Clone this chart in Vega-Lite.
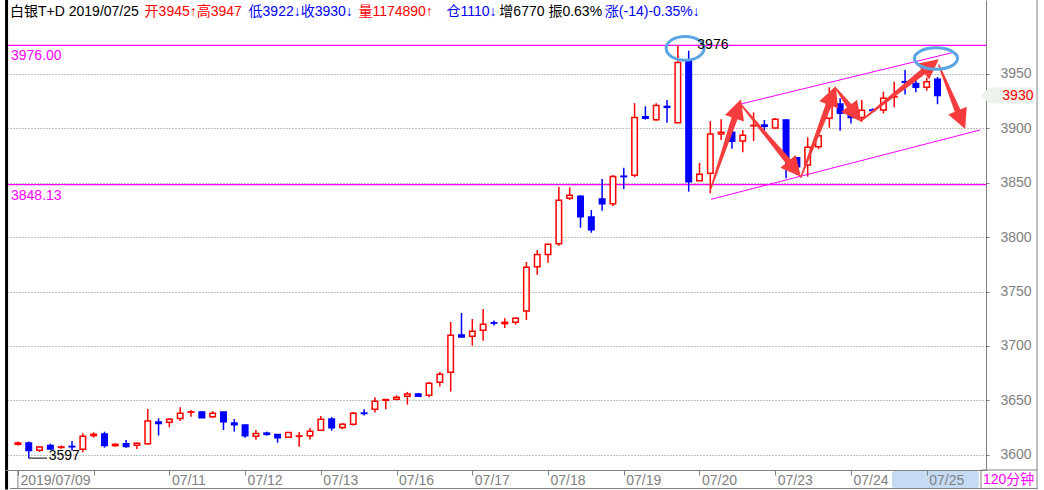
{
  "$schema": "https://vega.github.io/schema/vega-lite/v6.json",
  "width": 981,
  "height": 470,
  "autosize": {"type": "none"},
  "padding": {"left": 5, "top": 0, "right": 58, "bottom": 20},
  "background": "white",
  "config": {"view": {"stroke": null}, "font": "Liberation Sans"},
  "data": {"values": [{}]},
  "datasets": {
    "candles": [
      {"i": 0, "o": 3609.7, "h": 3612.2, "l": 3608.5, "c": 3610.9},
      {"i": 1, "o": 3610.9, "h": 3612.2, "l": 3597.0, "c": 3603.9},
      {"i": 2, "o": 3604.2, "h": 3608.2, "l": 3602.7, "c": 3607.3},
      {"i": 3, "o": 3608.5, "h": 3610.3, "l": 3604.5, "c": 3605.4},
      {"i": 4, "o": 3606.8, "h": 3608.5, "l": 3605.5, "c": 3607.3},
      {"i": 5, "o": 3607.8, "h": 3612.8, "l": 3604.0, "c": 3607.4},
      {"i": 6, "o": 3605.1, "h": 3619.8, "l": 3602.4, "c": 3617.0},
      {"i": 7, "o": 3617.7, "h": 3620.7, "l": 3615.8, "c": 3618.9},
      {"i": 8, "o": 3619.2, "h": 3621.3, "l": 3606.6, "c": 3608.5},
      {"i": 9, "o": 3608.5, "h": 3610.3, "l": 3607.6, "c": 3609.7},
      {"i": 10, "o": 3610.3, "h": 3613.7, "l": 3606.6, "c": 3607.6},
      {"i": 11, "o": 3608.8, "h": 3611.2, "l": 3605.4, "c": 3610.6},
      {"i": 12, "o": 3610.3, "h": 3642.1, "l": 3609.7, "c": 3631.1},
      {"i": 13, "o": 3630.2, "h": 3633.6, "l": 3617.7, "c": 3628.7},
      {"i": 14, "o": 3629.9, "h": 3633.6, "l": 3625.3, "c": 3632.7},
      {"i": 15, "o": 3633.4, "h": 3643.7, "l": 3631.2, "c": 3638.2},
      {"i": 16, "o": 3639.2, "h": 3641.1, "l": 3635.0, "c": 3639.5},
      {"i": 17, "o": 3639.3, "h": 3640.2, "l": 3634.1, "c": 3634.1},
      {"i": 18, "o": 3635.0, "h": 3640.2, "l": 3633.8, "c": 3638.1},
      {"i": 19, "o": 3639.3, "h": 3639.3, "l": 3622.8, "c": 3630.4},
      {"i": 20, "o": 3629.2, "h": 3632.9, "l": 3621.3, "c": 3627.7},
      {"i": 21, "o": 3627.4, "h": 3627.6, "l": 3615.8, "c": 3617.6},
      {"i": 22, "o": 3617.0, "h": 3622.8, "l": 3613.9, "c": 3619.7},
      {"i": 23, "o": 3620.0, "h": 3621.3, "l": 3617.6, "c": 3618.8},
      {"i": 24, "o": 3618.8, "h": 3618.9, "l": 3611.2, "c": 3615.8},
      {"i": 25, "o": 3616.1, "h": 3620.8, "l": 3615.8, "c": 3620.6},
      {"i": 26, "o": 3617.0, "h": 3620.9, "l": 3607.5, "c": 3617.3},
      {"i": 27, "o": 3617.6, "h": 3624.6, "l": 3614.2, "c": 3621.6},
      {"i": 28, "o": 3622.5, "h": 3635.6, "l": 3622.2, "c": 3632.6},
      {"i": 29, "o": 3632.9, "h": 3634.7, "l": 3622.2, "c": 3624.9},
      {"i": 30, "o": 3625.2, "h": 3629.2, "l": 3623.4, "c": 3628.2},
      {"i": 31, "o": 3628.1, "h": 3639.4, "l": 3626.9, "c": 3638.2},
      {"i": 32, "o": 3638.4, "h": 3641.9, "l": 3636.1, "c": 3638.0},
      {"i": 33, "o": 3641.9, "h": 3652.9, "l": 3638.8, "c": 3649.2},
      {"i": 34, "o": 3650.1, "h": 3651.0, "l": 3641.9, "c": 3650.8},
      {"i": 35, "o": 3651.1, "h": 3654.7, "l": 3650.1, "c": 3652.9},
      {"i": 36, "o": 3653.8, "h": 3657.8, "l": 3646.2, "c": 3655.9},
      {"i": 37, "o": 3655.9, "h": 3656.9, "l": 3653.8, "c": 3653.8},
      {"i": 38, "o": 3654.7, "h": 3666.9, "l": 3652.9, "c": 3665.7},
      {"i": 39, "o": 3666.7, "h": 3676.1, "l": 3662.7, "c": 3674.0},
      {"i": 40, "o": 3675.8, "h": 3722.0, "l": 3658.1, "c": 3709.8},
      {"i": 41, "o": 3710.1, "h": 3730.3, "l": 3708.0, "c": 3708.3},
      {"i": 42, "o": 3708.9, "h": 3724.8, "l": 3700.3, "c": 3713.5},
      {"i": 43, "o": 3714.4, "h": 3734.0, "l": 3704.9, "c": 3719.9},
      {"i": 44, "o": 3721.3, "h": 3723.3, "l": 3718.7, "c": 3721.0},
      {"i": 45, "o": 3720.5, "h": 3725.4, "l": 3716.5, "c": 3721.7},
      {"i": 46, "o": 3721.7, "h": 3726.6, "l": 3719.6, "c": 3725.4},
      {"i": 47, "o": 3732.1, "h": 3777.1, "l": 3723.9, "c": 3772.2},
      {"i": 48, "o": 3772.8, "h": 3788.1, "l": 3765.5, "c": 3784.1},
      {"i": 49, "o": 3784.1, "h": 3793.6, "l": 3776.5, "c": 3793.3},
      {"i": 50, "o": 3793.9, "h": 3846.0, "l": 3792.1, "c": 3833.7},
      {"i": 51, "o": 3835.6, "h": 3845.6, "l": 3834.0, "c": 3838.3},
      {"i": 52, "o": 3837.4, "h": 3838.3, "l": 3808.6, "c": 3818.7},
      {"i": 53, "o": 3818.4, "h": 3824.8, "l": 3804.0, "c": 3806.8},
      {"i": 54, "o": 3834.9, "h": 3853.3, "l": 3824.2, "c": 3830.7},
      {"i": 55, "o": 3830.7, "h": 3857.0, "l": 3828.5, "c": 3855.7},
      {"i": 56, "o": 3855.9, "h": 3863.6, "l": 3844.2, "c": 3855.5},
      {"i": 57, "o": 3856.7, "h": 3923.0, "l": 3855.0, "c": 3909.9},
      {"i": 58, "o": 3910.5, "h": 3920.0, "l": 3907.8, "c": 3909.0},
      {"i": 59, "o": 3907.8, "h": 3922.8, "l": 3906.9, "c": 3920.9},
      {"i": 60, "o": 3920.0, "h": 3925.8, "l": 3905.0, "c": 3919.1},
      {"i": 61, "o": 3905.0, "h": 3976.0, "l": 3905.0, "c": 3960.4},
      {"i": 62, "o": 3961.0, "h": 3971.1, "l": 3841.7, "c": 3850.9},
      {"i": 63, "o": 3851.8, "h": 3868.0, "l": 3851.8, "c": 3857.6},
      {"i": 64, "o": 3858.5, "h": 3906.5, "l": 3840.2, "c": 3894.6},
      {"i": 65, "o": 3894.6, "h": 3908.1, "l": 3889.1, "c": 3896.2},
      {"i": 66, "o": 3896.2, "h": 3898.3, "l": 3881.2, "c": 3887.9},
      {"i": 67, "o": 3888.2, "h": 3898.3, "l": 3877.8, "c": 3893.4},
      {"i": 68, "o": 3902.2, "h": 3914.5, "l": 3888.2, "c": 3902.5},
      {"i": 69, "o": 3902.9, "h": 3907.5, "l": 3898.3, "c": 3901.7},
      {"i": 70, "o": 3900.1, "h": 3909.3, "l": 3899.2, "c": 3908.1},
      {"i": 71, "o": 3907.5, "h": 3908.1, "l": 3853.9, "c": 3872.9},
      {"i": 72, "o": 3872.9, "h": 3873.2, "l": 3857.0, "c": 3864.6},
      {"i": 73, "o": 3866.2, "h": 3891.6, "l": 3855.5, "c": 3882.4},
      {"i": 74, "o": 3883.0, "h": 3893.1, "l": 3880.8, "c": 3893.1},
      {"i": 75, "o": 3909.0, "h": 3937.5, "l": 3900.4, "c": 3927.4},
      {"i": 76, "o": 3922.2, "h": 3927.4, "l": 3897.7, "c": 3913.6},
      {"i": 77, "o": 3913.6, "h": 3916.7, "l": 3904.4, "c": 3909.9},
      {"i": 78, "o": 3909.9, "h": 3925.8, "l": 3905.9, "c": 3916.4},
      {"i": 79, "o": 3916.7, "h": 3918.2, "l": 3915.2, "c": 3916.2},
      {"i": 80, "o": 3916.7, "h": 3933.5, "l": 3913.6, "c": 3927.4},
      {"i": 81, "o": 3928.7, "h": 3942.7, "l": 3919.1, "c": 3929.0},
      {"i": 82, "o": 3942.7, "h": 3953.4, "l": 3931.0, "c": 3942.1},
      {"i": 83, "o": 3941.1, "h": 3944.2, "l": 3932.9, "c": 3937.5},
      {"i": 84, "o": 3937.5, "h": 3946.3, "l": 3934.4, "c": 3942.7},
      {"i": 85, "o": 3945.0, "h": 3947.0, "l": 3922.0, "c": 3930.0}
    ],
    "levels": [
      {"v": 3976, "label": "3976.00"},
      {"v": 3848.13, "label": "3848.13"}
    ],
    "channel": [
      {"i": 66.81, "v": 3922.2, "i2": 86.34, "v2": 3969.3},
      {"i": 64.07, "v": 3834.7, "i2": 88.93, "v2": 3898.3}
    ],
    "arrows": [
      {"id": 1, "k": 0, "i": 64.02, "v": 3843.8},
      {"id": 1, "k": 1, "i": 66.39, "v": 3913.5},
      {"id": 1, "k": 2, "i": 66.83, "v": 3926.5},
      {"id": 2, "k": 0, "i": 66.79, "v": 3922.2},
      {"id": 2, "k": 1, "i": 71.49, "v": 3866.0},
      {"id": 2, "k": 2, "i": 72.37, "v": 3855.4},
      {"id": 3, "k": 0, "i": 72.37, "v": 3855.0},
      {"id": 3, "k": 1, "i": 75.11, "v": 3925.8},
      {"id": 3, "k": 2, "i": 75.6, "v": 3938.7},
      {"id": 4, "k": 0, "i": 75.6, "v": 3936.6},
      {"id": 4, "k": 1, "i": 77.11, "v": 3916.9},
      {"id": 4, "k": 2, "i": 77.95, "v": 3905.9},
      {"id": 5, "k": 0, "i": 78.1, "v": 3908.1},
      {"id": 5, "k": 1, "i": 84.03, "v": 3954.7},
      {"id": 5, "k": 2, "i": 85.12, "v": 3963.2},
      {"id": 6, "k": 0, "i": 85.12, "v": 3958.0},
      {"id": 6, "k": 1, "i": 87.03, "v": 3911.9},
      {"id": 6, "k": 2, "i": 87.56, "v": 3899.2}
    ]
  },
  "layer": [
    {
      "data": {"name": "levels"},
      "mark": {"type": "rule", "color": "#ff00ff", "strokeWidth": 1.2},
      "encoding": {
        "y": {
          "field": "v", "type": "quantitative",
          "scale": {"domain": [3586.1, 4017.7], "nice": false, "zero": false},
          "axis": {
            "orient": "right", "title": null, "format": "d",
            "values": [3600, 3650, 3700, 3750, 3800, 3850, 3900, 3950],
            "grid": true, "gridColor": "#808080", "gridDash": [1, 2], "gridWidth": 1,
            "domainColor": "#808080", "domainWidth": 1,
            "tickColor": "#808080", "tickSize": 3,
            "labelColor": "#808080", "labelFontSize": 14, "labelFont": "Liberation Sans",
            "labelPadding": 11, "labelAlign": "left", "labelBaseline": "middle",
            "labelOverlap": false, "labelBound": false, "labelFlush": false
          }
        }
      }
    },
    {
      "data": {"name": "levels"},
      "mark": {"type": "text", "color": "#ff00ff", "fontSize": 14, "align": "left", "baseline": "top", "dy": 4},
      "encoding": {
        "x": {"datum": -0.64, "type": "quantitative"},
        "y": {"field": "v", "type": "quantitative"},
        "text": {"field": "label"}
      }
    },
    {
      "data": {"name": "candles"},
      "mark": {"type": "rule", "strokeWidth": 1.5},
      "encoding": {
        "x": {
          "field": "i", "type": "quantitative",
          "scale": {"domain": [-0.732, 89.02], "nice": false, "zero": false},
          "axis": {
            "orient": "bottom", "title": null, "zindex": 1,
            "values": [0, 7, 14, 21, 28, 35, 42, 49, 56, 63, 70, 77, 84],
            "labelExpr": "['2019/07/09','','07/11','07/12','07/13','07/16','07/17','07/18','07/19','07/20','07/23','07/24','07/25'][round(datum.value/7)]",
            "grid": false, "domainColor": "#808080", "domainWidth": 1,
            "tickColor": "#808080", "tickSize": 5,
            "labelColor": "#808080", "labelFontSize": 14, "labelFont": "Liberation Sans",
            "labelAlign": "left", "labelBaseline": "top", "labelOffset": 2, "labelPadding": -2,
            "labelOverlap": false, "labelBound": false, "labelFlush": false
          }
        },
        "y": {"field": "l", "type": "quantitative"},
        "y2": {"field": "h"},
        "stroke": {"condition": {"test": "datum.c >= datum.o", "value": "#ff0000"}, "value": "#0000ff"}
      }
    },
    {
      "data": {"name": "candles"},
      "mark": {"type": "bar", "width": 5.5, "strokeWidth": 1.5},
      "encoding": {
        "x": {"field": "i", "type": "quantitative"},
        "y": {"field": "o", "type": "quantitative"},
        "y2": {"field": "c"},
        "fill": {"condition": {"test": "datum.c >= datum.o", "value": "#ffffff"}, "value": "#0000ff"},
        "stroke": {"condition": {"test": "datum.c >= datum.o", "value": "#ff0000"}, "value": "#0000ff"}
      }
    },
    {
      "data": {"name": "channel"},
      "mark": {"type": "rule", "color": "#ff00ff", "strokeWidth": 1},
      "encoding": {
        "x": {"field": "i", "type": "quantitative"},
        "y": {"field": "v", "type": "quantitative"},
        "x2": {"field": "i2"},
        "y2": {"field": "v2"}
      }
    },
    {
      "data": {"name": "arrows"},
      "transform": [{"filter": "datum.k < 2"}],
      "mark": {"type": "trail", "color": "#f63c3c"},
      "encoding": {
        "x": {"field": "i", "type": "quantitative"},
        "y": {"field": "v", "type": "quantitative"},
        "detail": {"field": "id", "type": "nominal"},
        "order": {"field": "k", "type": "quantitative"},
        "size": {"field": "k", "type": "quantitative", "scale": {"domain": [0, 1], "range": [1.5, 6.5]}, "legend": null}
      }
    },
    {
      "data": {"name": "arrows"},
      "transform": [
        {"window": [{"op": "lag", "field": "i", "as": "pi"}, {"op": "lag", "field": "v", "as": "pv"}], "groupby": ["id"], "sort": [{"field": "k", "order": "ascending"}]},
        {"filter": "datum.k == 2"},
        {"calculate": "atan2((datum.i - datum.pi) * 10.93, (datum.v - datum.pv) * 1.089) * 180 / PI", "as": "ang"}
      ],
      "mark": {"type": "point", "shape": "M0,0L0.5,1L-0.5,1Z", "size": 1600, "filled": true, "color": "#f63c3c", "opacity": 1, "strokeWidth": 0},
      "encoding": {
        "x": {"field": "i", "type": "quantitative"},
        "y": {"field": "v", "type": "quantitative"},
        "angle": {"field": "ang", "type": "quantitative", "scale": null}
      }
    },
    {
      "mark": {"type": "point", "shape": "M-1,0A1,0.62 0 1,1 1,0A1,0.62 0 1,1 -1,0Z", "size": 1444, "filled": false, "stroke": "#5aa5e4", "strokeWidth": 3, "opacity": 1},
      "encoding": {
        "x": {"datum": 61.67, "type": "quantitative"},
        "y": {"datum": 3973.3, "type": "quantitative"}
      }
    },
    {
      "mark": {"type": "point", "shape": "M-1,0A1,0.5 0 1,1 1,0A1,0.5 0 1,1 -1,0Z", "size": 1849, "filled": false, "stroke": "#5aa5e4", "strokeWidth": 3, "opacity": 1},
      "encoding": {
        "x": {"datum": 84.86, "type": "quantitative"},
        "y": {"datum": 3964.0, "type": "quantitative"}
      }
    },
    {
      "mark": {"type": "text", "color": "#000000", "fontSize": 14, "align": "left", "baseline": "middle"},
      "encoding": {
        "x": {"datum": 62.8, "type": "quantitative"},
        "y": {"datum": 3976, "type": "quantitative"},
        "text": {"value": "3976"}
      }
    },
    {
      "mark": {"type": "rule", "color": "#000000", "strokeWidth": 1},
      "encoding": {
        "x": {"datum": 1.0, "type": "quantitative"},
        "x2": {"datum": 2.7},
        "y": {"datum": 3597, "type": "quantitative"}
      }
    },
    {
      "mark": {"type": "text", "color": "#000000", "fontSize": 14, "align": "left", "baseline": "alphabetic", "dy": 2},
      "encoding": {
        "x": {"datum": 2.84, "type": "quantitative"},
        "y": {"datum": 3597, "type": "quantitative"},
        "text": {"value": "3597"}
      }
    },
    {
      "data": {"name": "candles"},
      "transform": [{"filter": "datum.i == 85"}],
      "mark": {"type": "point", "shape": "M-1,0L-0.67,-0.3L1,-0.3L1,0.3L-0.67,0.3Z", "size": 2916, "filled": true, "color": "#ecf3ec", "opacity": 1, "strokeWidth": 0},
      "encoding": {
        "x": {"datum": 91.49, "type": "quantitative"},
        "y": {"field": "c", "type": "quantitative"}
      }
    },
    {
      "data": {"name": "candles"},
      "transform": [{"filter": "datum.i == 85"}],
      "mark": {"type": "text", "color": "#ff0000", "fontSize": 14, "align": "right", "baseline": "middle"},
      "encoding": {
        "x": {"datum": 93.87, "type": "quantitative"},
        "y": {"field": "c", "type": "quantitative"},
        "text": {"field": "c", "type": "quantitative", "format": "d"}
      }
    },
    {
      "mark": {"type": "rect", "color": "#c5dbf4", "cornerRadius": 3},
      "encoding": {
        "x": {"datum": 80.79, "type": "quantitative"},
        "x2": {"datum": 88.84},
        "y": {"datum": 3585.5, "type": "quantitative"},
        "y2": {"datum": 3569.0}
      }
    },
    {
      "mark": {"type": "text", "color": "#ff00ff", "fontSize": 14, "font": "Liberation Sans, Noto Sans CJK SC", "align": "left", "baseline": "middle"},
      "encoding": {
        "x": {"datum": 89.2, "type": "quantitative"},
        "y": {"datum": 3576.9, "type": "quantitative"},
        "text": {"value": "120分钟"}
      }
    },
    {
      "mark": {"type": "rule", "color": "#000000", "strokeWidth": 3},
      "encoding": {
        "x": {"datum": -1.05, "type": "quantitative"},
        "y": {"datum": 4017.7, "type": "quantitative"},
        "y2": {"datum": 3568.2}
      }
    },
    {
      "mark": {"type": "rule", "color": "#808080", "strokeWidth": 1},
      "encoding": {
        "x": {"datum": 94.2, "type": "quantitative"},
        "y": {"datum": 4017.7, "type": "quantitative"},
        "y2": {"datum": 3568.2}
      }
    },
    {
      "mark": {"type": "rule", "color": "#808080", "strokeWidth": 1},
      "encoding": {
        "x": {"datum": 89.02, "type": "quantitative"},
        "y": {"datum": 3586.1, "type": "quantitative"},
        "y2": {"datum": 3568.6}
      }
    },
    {
      "mark": {"type": "rule", "color": "#808080", "strokeWidth": 1},
      "encoding": {
        "x": {"datum": 0, "type": "quantitative"},
        "y": {"datum": 3586.1, "type": "quantitative"},
        "y2": {"datum": 3569.0}
      }
    },
    {
      "mark": {"type": "rule", "color": "#808080", "strokeWidth": 1},
      "encoding": {
        "x": {"datum": 89.02, "type": "quantitative"},
        "x2": {"datum": 94.2},
        "y": {"datum": 3586.1, "type": "quantitative"}
      }
    },
    {
      "mark": {"type": "rule", "color": "#808080", "strokeWidth": 1},
      "encoding": {
        "x": {"datum": -0.73, "type": "quantitative"},
        "x2": {"datum": 94.2},
        "y": {"datum": 3569.1, "type": "quantitative"}
      }
    },
    {
      "mark": {"type": "text", "color": "#000000", "fontSize": 14, "font": "Liberation Sans, Noto Sans CJK SC", "align": "left", "baseline": "middle"},
      "encoding": {
        "x": {"datum": -0.73, "type": "quantitative"},
        "y": {"datum": 4006.7, "type": "quantitative"},
        "text": {"value": "白银T+D 2019/07/25"}
      }
    },
    {
      "mark": {"type": "text", "color": "#ff0000", "fontSize": 14, "font": "Liberation Sans, Noto Sans CJK SC", "align": "left", "baseline": "middle"},
      "encoding": {
        "x": {"datum": 11.71, "type": "quantitative"},
        "y": {"datum": 4006.7, "type": "quantitative"},
        "text": {"value": "开3945↑高3947"}
      }
    },
    {
      "mark": {"type": "text", "color": "#0000ff", "fontSize": 14, "font": "Liberation Sans, Noto Sans CJK SC", "align": "left", "baseline": "middle"},
      "encoding": {
        "x": {"datum": 21.32, "type": "quantitative"},
        "y": {"datum": 4006.7, "type": "quantitative"},
        "text": {"value": "低3922↓收3930↓"}
      }
    },
    {
      "mark": {"type": "text", "color": "#ff0000", "fontSize": 14, "font": "Liberation Sans, Noto Sans CJK SC", "align": "left", "baseline": "middle"},
      "encoding": {
        "x": {"datum": 31.47, "type": "quantitative"},
        "y": {"datum": 4006.7, "type": "quantitative"},
        "text": {"value": "量1174890↑"}
      }
    },
    {
      "mark": {"type": "text", "color": "#0000ff", "fontSize": 14, "font": "Liberation Sans, Noto Sans CJK SC", "align": "left", "baseline": "middle"},
      "encoding": {
        "x": {"datum": 39.62, "type": "quantitative"},
        "y": {"datum": 4006.7, "type": "quantitative"},
        "text": {"value": "仓1110↓"}
      }
    },
    {
      "mark": {"type": "text", "color": "#000000", "fontSize": 14, "font": "Liberation Sans, Noto Sans CJK SC", "align": "left", "baseline": "middle"},
      "encoding": {
        "x": {"datum": 44.5, "type": "quantitative"},
        "y": {"datum": 4006.7, "type": "quantitative"},
        "text": {"value": "增6770 振0.63%"}
      }
    },
    {
      "mark": {"type": "text", "color": "#0000ff", "fontSize": 14, "font": "Liberation Sans, Noto Sans CJK SC", "align": "left", "baseline": "middle"},
      "encoding": {
        "x": {"datum": 54.25, "type": "quantitative"},
        "y": {"datum": 4006.7, "type": "quantitative"},
        "text": {"value": "涨(-14)-0.35%↓"}
      }
    }
  ]
}
